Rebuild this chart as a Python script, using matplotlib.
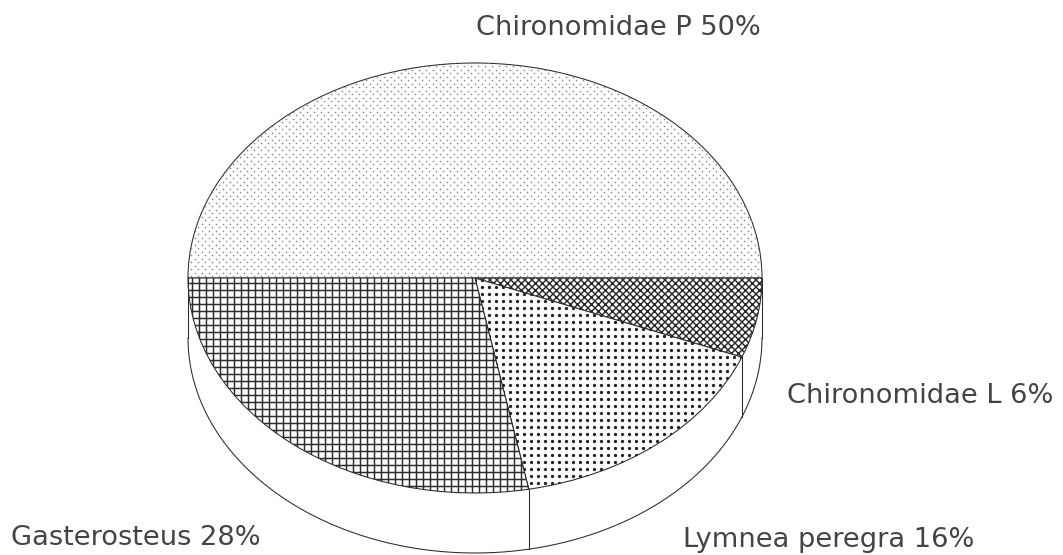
import numpy as np
import matplotlib
matplotlib.use('Agg')
import matplotlib.pyplot as plt

labels = ['Chironomidae P 50%', 'Chironomidae L 6%', 'Lymnea peregra 16%', 'Gasterosteus 28%']
shares = [50, 6, 16, 28]
hatches = ['', 'xxxx', '', '++']

INK = '#2b2b2b'
W, H = 1063, 555
DPI = 84
cx, cy = 475, 278      # pie centre in pixels
rx, ry = 287, 215      # radii in pixels
depth = 60 / ry        # height of the side wall

plt.rcParams['hatch.linewidth'] = 1.25
plt.rcParams['font.family'] = ['DejaVu Sans']

fig = plt.figure(figsize=(W / DPI, H / DPI), dpi=DPI)
ax = fig.add_axes([0, 0, 1, 1])

wedges, _ = ax.pie(shares, startangle=180, counterclock=False, radius=1,
                   hatch=hatches, colors=['white'] * 4,
                   wedgeprops={'edgecolor': INK, 'linewidth': 0.9})
ax.set_aspect('auto')
ax.set_xlim(-cx / rx, (W - cx) / rx)
ax.set_ylim(-(H - cy) / ry, cy / ry)
ax.axis('off')

# side wall of the disc
t = np.linspace(np.pi, 2 * np.pi, 300)
ax.plot(np.cos(t), np.sin(t) - depth, color=INK, lw=0.9, clip_on=False)
ax.plot([-1, -1], [0, -depth], color=INK, lw=0.9)
ax.plot([1, 1], [0, -depth], color=INK, lw=0.9)
# edges of the slices that reach the front of the disc
for s in np.cumsum(shares)[1:3]:
    a = np.pi - 2 * np.pi * s / 100
    ax.plot([np.cos(a)] * 2, [np.sin(a), np.sin(a) - depth], color=INK, lw=0.9)

# dot screens, clipped to their wedge
def screen(wedge, step_x, step_y, stagger, size, color):
    xs, ys = [], []
    for i, y in enumerate(np.arange(-1.05, 1.05, step_y / ry)):
        off = (step_x / rx / 2) if (stagger and i % 2) else 0
        for x in np.arange(-1.05, 1.05, step_x / rx):
            xs.append(x + off)
            ys.append(y)
    pts = ax.scatter(xs, ys, s=size, color=color, linewidths=0, zorder=3)
    pts.set_clip_path(wedge)

screen(wedges[0], 7.0, 3.5, True, 2.0, '#8a8a8a')
screen(wedges[2], 7.0, 7.0, False, 8, '#222222')

# labels, placed in pixels by baseline
text_pos = [(476, 35), (787, 403), (683, 547), (11, 545)]
for lab, (x, y) in zip(labels, text_pos):
    fig.text(x / W, 1 - y / H, lab, fontsize=23.4, color='#444444', va='baseline', ha='left')

fig.savefig('out.png', dpi=DPI, facecolor='white')
